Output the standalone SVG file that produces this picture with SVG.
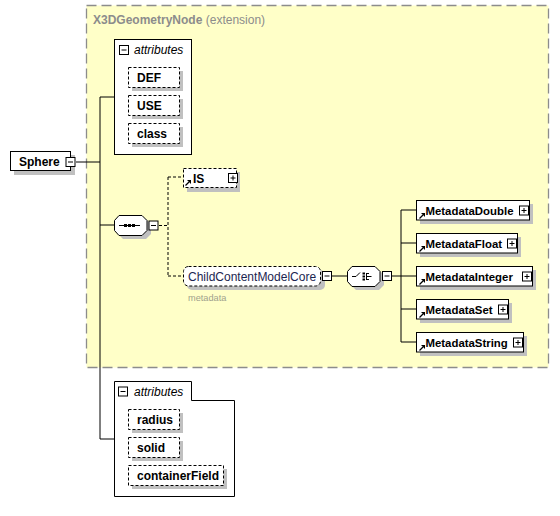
<svg xmlns="http://www.w3.org/2000/svg" width="560" height="516" viewBox="0 0 560 516">
<defs>
<style>
.t{font-family:"Liberation Sans",Arial,sans-serif;font-size:12px;fill:#000;}
.b{font-weight:bold;}
.m{font-size:11.4px;}
.box{fill:#fff;stroke:#000;stroke-width:1;}
.dbox{fill:#fff;stroke:#000;stroke-width:1;stroke-dasharray:3,2;}
.sh{fill:#c0c0c0;stroke:none;}
.ln{fill:none;stroke:#000;stroke-width:1;}
.dln{fill:none;stroke:#000;stroke-width:1;stroke-dasharray:3,2;}
.btn{fill:#fff;stroke:#000;stroke-width:1;}
.ref{fill:none;stroke:#000;stroke-width:1.3;}
</style>
<g id="plus"><rect class="btn" x="0.5" y="0.5" width="9" height="9"/><path class="ln" d="M2.5,5 H7.5 M5,2.5 V7.5"/></g>
<g id="minus"><rect class="btn" x="0.5" y="0.5" width="9" height="9"/><path class="ln" d="M2.5,5 H7.5"/></g>
<g id="arrow"><path class="ref" d="M0.5,5.5 L4,2"/><polygon points="2,0 6,0 6,4" fill="#000"/></g>
</defs>
<rect x="0" y="0" width="560" height="516" fill="#fff"/>

<g id="extension">
<rect x="86.5" y="5.5" width="462" height="362" fill="#ffffc8" stroke="#8c8c8c" stroke-width="1.3" stroke-dasharray="10,5"/>
<text x="93" y="24" class="t" style="fill:#8c8c8c"><tspan class="b">X3DGeometryNode</tspan> (extension)</text>
</g>

<g id="connectors">
<path class="ln" d="M76,162 H100 M100,97 V439 M100,97 H114 M100,225 H114 M100,439 H114"/>
<path class="dln" d="M159,225.5 H168 M168,177 V276 M168,177 H183 M168,276 H183"/>
<path class="ln" d="M332,276 H347 M392,276 H401 M401,210 V342 M401,210 H416 M401,243 H416 M401,276 H416 M401,309 H416 M401,342 H416"/>
</g>

<g id="Sphere">
<rect class="sh" x="14" y="155" width="61" height="20"/>
<rect class="box" x="10.5" y="151.5" width="60" height="19"/>
<text x="19" y="166" class="t b">Sphere</text>
<use href="#minus" x="65.5" y="157"/>
</g>

<g id="attributes1">
<rect class="box" x="114.5" y="39.5" width="77" height="115"/>
<use href="#minus" x="119" y="45"/>
<text x="134" y="54" class="t" style="font-style:italic">attributes</text>
</g>
<g id="DEF">
<rect class="sh" x="132" y="71" width="51" height="20"/>
<rect class="dbox" x="128.5" y="67.5" width="51" height="20"/>
<text x="137" y="82" class="t b">DEF</text>
</g>
<g id="USE">
<rect class="sh" x="132" y="99" width="51" height="20"/>
<rect class="dbox" x="128.5" y="95.5" width="51" height="20"/>
<text x="137" y="110" class="t b">USE</text>
</g>
<g id="class">
<rect class="sh" x="132" y="127" width="51" height="20"/>
<rect class="dbox" x="128.5" y="123.5" width="51" height="20"/>
<text x="137" y="138" class="t b">class</text>
</g>

<g id="sequence">
<path class="sh" d="M123,219 H146 L151,224 V234 L146,239 H123 L118,234 V224 Z"/>
<path class="box" d="M119,215.5 H142 L147,220.5 V230.5 L142,235.5 H119 L114.5,230.5 V220.5 Z"/>
<path class="ln" d="M119,225.5 H140"/>
<rect x="124" y="224" width="3" height="3" fill="#000"/>
<rect x="128" y="224" width="3" height="3" fill="#000"/>
<rect x="132" y="224" width="3" height="3" fill="#000"/>
<use href="#minus" x="148.5" y="220.5"/>
</g>

<g id="IS">
<rect class="sh" x="187" y="172" width="53" height="20"/>
<rect class="dbox" x="183.5" y="168.5" width="53" height="19"/>
<use href="#arrow" x="185" y="180"/>
<text x="193" y="183" class="t b">IS</text>
<use href="#plus" x="228" y="173"/>
</g>

<g id="ChildContentModelCore">
<rect class="sh" x="187" y="270" width="138" height="20" rx="5"/>
<rect class="dbox" x="183.5" y="266.5" width="137" height="19.5" rx="5"/>
<text x="188" y="281" class="t" style="fill:#1b2550">ChildContentModelCore</text>
<use href="#minus" x="322" y="271"/>
<text x="188" y="301" class="t" style="font-size:9.2px;fill:#a09f8c">metadata</text>
</g>

<g id="choice">
<path class="sh" d="M356,270 H379 L384,275 V285 L379,290 H356 L351,285 V275 Z"/>
<path class="box" d="M352,266.5 H375 L380,271.5 V281.5 L375,286.5 H352 L347.5,281.5 V271.5 Z"/>
<path class="ln" d="M352,276.5 H356 L360,272.5"/>
<rect x="362.5" y="272.5" width="2.5" height="2" fill="#000"/>
<rect x="362.5" y="275.5" width="2.5" height="2" fill="#000"/>
<rect x="362.5" y="278.5" width="2.5" height="2" fill="#000"/>
<path class="ln" d="M366.5,273 V280 M366.5,273.5 H369 M366.5,279.5 H369 M366.5,276.5 H371.5"/>
<use href="#minus" x="382" y="271"/>
</g>

<g id="MetadataDouble">
<rect class="sh" x="420" y="204" width="113" height="20"/>
<rect class="box" x="416.5" y="200.5" width="113" height="19.5"/>
<use href="#arrow" x="419" y="213"/>
<text x="425.5" y="215" class="t b m">MetadataDouble</text>
<use href="#plus" x="519" y="205.5"/>
</g>
<g id="MetadataFloat">
<rect class="sh" x="420" y="237" width="101" height="20"/>
<rect class="box" x="416.5" y="233.5" width="101" height="19.5"/>
<use href="#arrow" x="419" y="246"/>
<text x="425.5" y="248" class="t b m">MetadataFloat</text>
<use href="#plus" x="507" y="238.5"/>
</g>
<g id="MetadataInteger">
<rect class="sh" x="420" y="270" width="116" height="20"/>
<rect class="box" x="416.5" y="266.5" width="116" height="19.5"/>
<use href="#arrow" x="419" y="279"/>
<text x="425.5" y="281" class="t b m">MetadataInteger</text>
<use href="#plus" x="522" y="271.5"/>
</g>
<g id="MetadataSet">
<rect class="sh" x="420" y="303" width="92" height="20"/>
<rect class="box" x="416.5" y="299.5" width="92" height="19.5"/>
<use href="#arrow" x="419" y="312"/>
<text x="425.5" y="314" class="t b m">MetadataSet</text>
<use href="#plus" x="498" y="304.5"/>
</g>
<g id="MetadataString">
<rect class="sh" x="420" y="336" width="107" height="20"/>
<rect class="box" x="416.5" y="332.5" width="107" height="19.5"/>
<use href="#arrow" x="419" y="345"/>
<text x="425.5" y="347" class="t b m">MetadataString</text>
<use href="#plus" x="513" y="337.5"/>
</g>

<g id="attributes2">
<path class="box" d="M114.5,381.5 H191.5 V400.5 H234.5 V496.5 H114.5 Z"/>
<use href="#minus" x="118" y="386.5"/>
<text x="134" y="396" class="t" style="font-style:italic">attributes</text>
</g>
<g id="radius">
<rect class="sh" x="132" y="413" width="51" height="20"/>
<rect class="dbox" x="128.5" y="409.5" width="51" height="20"/>
<text x="137" y="424" class="t b">radius</text>
</g>
<g id="solid">
<rect class="sh" x="132" y="441" width="51" height="20"/>
<rect class="dbox" x="128.5" y="437.5" width="51" height="20"/>
<text x="137" y="452" class="t b">solid</text>
</g>
<g id="containerField">
<rect class="sh" x="132" y="469" width="95" height="20"/>
<rect class="dbox" x="128.5" y="465.5" width="95" height="20"/>
<text x="137" y="480" class="t b">containerField</text>
</g>
</svg>
